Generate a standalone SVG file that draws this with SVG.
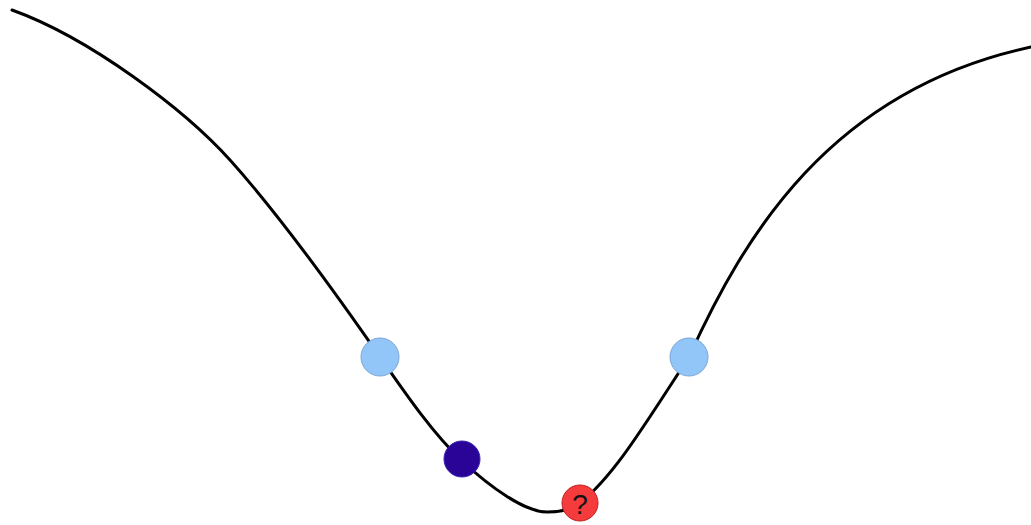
<svg xmlns="http://www.w3.org/2000/svg" width="1031" height="525" viewBox="0 0 1031 525">
<style>
.curve{fill:none;stroke:#000;stroke-width:3;stroke-linecap:round}
.light{fill:#92c5f8;stroke:#7aa6d6;stroke-width:1}
.dark{fill:#2a0496;stroke:#3a20b0;stroke-width:1}
.red{fill:#f53b3b;stroke:#c02020;stroke-width:1}
.q{font-family:"Liberation Sans",Arial,sans-serif;font-size:28px;fill:#111;text-anchor:middle}
</style>
<rect width="1031" height="525" fill="#fff"/>
<g id="connectors">
<path class="curve" d="M12,10 C90,38 185,110 230,160 C275,210 330,285 380,357 C410,400 433,433 461,460 C491,488 525,512 547,512 C562,512 572,509 580,503 C615,475 645,424 689,357 C 744,236 830,90 1031,47"/>
</g>
<g id="node-left"><circle class="light" cx="380" cy="357" r="19"/></g>
<g id="node-right"><circle class="light" cx="689" cy="357" r="19"/></g>
<g id="node-current"><circle class="dark" cx="462" cy="459" r="18"/></g>
<g id="node-unknown"><circle class="red" cx="580" cy="503" r="18"/><text class="q" x="580" y="514">?</text></g>
</svg>
